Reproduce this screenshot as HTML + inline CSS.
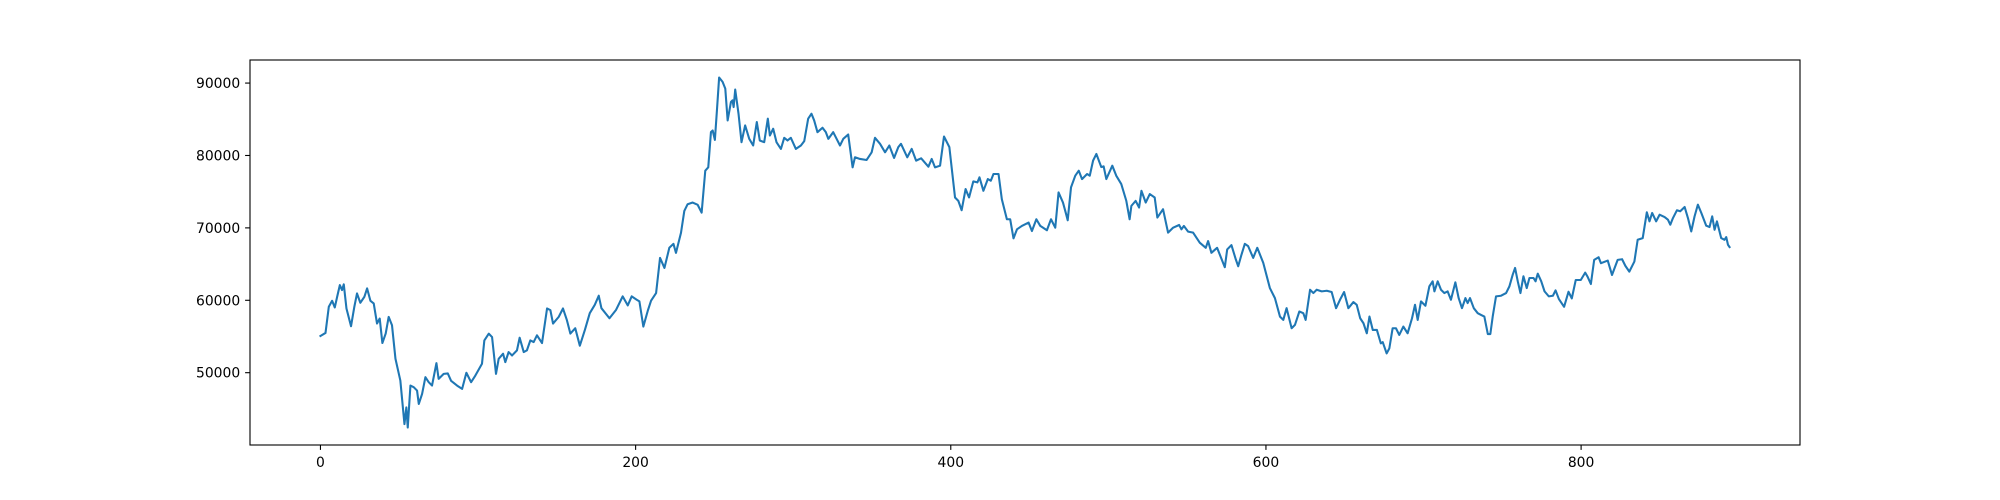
<!DOCTYPE html>
<html>
<head>
<meta charset="utf-8">
<style>
  html, body { margin: 0; padding: 0; background: #ffffff; }
  svg { display: block; }
  text { font-family: "DejaVu Sans", "Liberation Sans", sans-serif; font-size: 13.9px; fill: #000; }
</style>
</head>
<body>
<svg id="chart" width="2000" height="500" viewBox="0 0 2000 500" xmlns="http://www.w3.org/2000/svg">
  <rect x="0" y="0" width="2000" height="500" fill="#ffffff"/>
  <g id="plot"></g>
</svg>
<script>
const xValues = [0,3.2,5.3,7.4,9.1,10.6,12.3,13.7,14.8,16.5,19.4,21.5,23.2,25.3,27.9,29.6,31.7,33.8,35.9,37.6,39.3,41.4,43.3,45.4,
47.6,50.7,53.3,54.5,55.4,57.1,59.2,61.3,62.4,64.5,66.6,68.7,70.8,73.6,75,78.2,80.8,82.9,86.7,89.9,92.6,95.6,98.3,102.5,104,106.8,108.9,111.4,113.1,115.9,117.3,119.4,121.6,124.7,126.4,129,131,133.2,135.3,137.4,140.6,143.8,145.9,147.6,151.2,153.9,156.4,
158.6,161.7,164.6,167.8,170.9,174.1,176.6,178.3,183.4,187.6,191.8,195,197.5,200.7,202.4,204.9,207.7,209.8,213,215.5,218.3,221.4,224,225.6,228.8,230.9,233,236.2,239.4,241.9,244.2,246.1,247.8,248.9,250.3,251.6,253,255.2,256.9,258.4,260.5,261.5,262.2,263.2,265.3,267.2,269.5,272.1,274.6,276.9,278.8,281.6,283.9,285.2,287.3,289.4,292.2,294.3,296.4,298.5,301.7,304.9,307,309.5,311.6,313.3,315.4,318.6,320.7,
322.3,325.4,329.7,331.8,334.9,337.7,339.2,342.4,346.6,349.8,351.9,355.1,358.3,361,364,366.7,368.4,372.4,375.2,378,381.2,385.8,387.9,390,393.2,395.7,399.1,402.7,404.8,406.9,409.4,411.6,414.3,416.9,418.2,420.7,423.5,425.4,427.1,430.3,432.4,435.6,437.7,439.8,442,445.1,449.4,451.5,454.3,456.8,461,463.6,466.3,468.4,471.2,473.1,474.2,476.3,479,481.2,483.3,486.5,488.2,490.3,492.4,
495.5,497,498.7,502.5,505,508.2,511.4,513.5,514.6,517.3,519.5,521,523.7,526.3,529.4,531.1,534.7,537.9,541.1,544.9,546.4,547.9,550.6,553.8,558,561.8,563.3,565.4,569,573.9,575.4,578.1,580.9,582.4,584.5,586.6,588.7,591.9,594.5,598.3,602.5,605.7,608.9,611,613.1,616.3,618.4,621.2,623.7,625.2,628,630.1,632.2,635.4,638.6,641.7,644.5,647,649.6,652.3,655.5,657.6,659.8,661.9,664,665.7,667.8,670.4,
672.9,674.1,676.6,678.3,680.4,682.5,684.6,687.2,689.9,692.7,694.6,696.3,698.4,701.2,703.7,705.8,706.9,709,711.1,713.2,715.3,717.4,720.2,722.3,724.4,726.6,728,729.5,731.9,734.4,736.5,738.6,740.8,742.4,743.9,746,749.2,752.4,754.5,756.6,758.1,759.8,761.5,763.4,765.5,767.2,769.8,771.1,772.5,774.7,776.8,779.5,782.1,783.8,785.9,
789.2,792,794.1,796.6,799.8,802.6,804.1,806.2,808.3,811.1,812.6,816.9,819.6,823.2,826,828.1,830.6,833.8,835.9,839.1,841.7,843.4,845.1,847.6,849.8,853,855.1,856.6,858.3,860.8,862.9,865.7,867.8,869.9,872,874.1,876.3,879.4,881.5,883.2,884.7,886.2,888.9,891,892.1,893.2,894.2];
const yValues = [55070,55490,59100,59930,59010,60490,62100,61410,62200,58870,56420,59100,60950,59650,60490,61640,59930,59560,56790,57480,54100,55400,57710,56550,
51930,48910,42900,45200,42430,48220,48000,47530,45680,47070,49380,48690,48220,51320,49150,49840,49900,48880,48220,47760,49990,48690,49610,51230,54460,55390,54920,49840,51920,52620,51460,52850,52380,53080,54830,52850,53080,54460,54230,55160,54090,58870,58640,56780,57710,58870,57250,
55400,56140,53730,55900,58220,59380,60630,58910,57520,58680,60540,59290,60540,60080,59850,56370,58540,59940,61000,65860,64470,67250,67800,66550,69330,72340,73270,73500,73180,72110,77900,78360,83220,83450,82150,86230,90770,90170,89240,84840,87390,87620,86690,89100,85770,81840,84150,82300,81380,84620,82070,81840,85080,82760,83690,81840,80910,82440,82070,82440,80910,81380,81980,85080,85770,84840,83220,83830,83220,
82300,83220,81380,82300,82900,78360,79750,79520,79380,80440,82440,81610,80440,81380,79660,81150,81610,79750,80910,79290,79610,78450,79520,78360,78590,82620,81150,74200,73730,72440,75360,74200,76420,76280,76980,75120,76740,76510,77440,77440,73960,71190,71190,68550,69800,70270,70730,69570,71190,70270,69670,71190,70030,74900,73500,71980,71050,75590,77210,77900,76740,77440,77210,79290,80210,
78400,78500,76740,78590,77210,76050,73730,71190,73040,73730,72810,75120,73500,74670,74200,71420,72580,69340,70030,70400,69800,70270,69480,69340,67950,67250,68180,66560,67250,64570,67020,67620,65630,64700,66320,67800,67480,65860,67250,65170,61690,60300,57750,57290,58910,56140,56600,58450,58220,57290,61460,61000,61460,61230,61320,61140,58910,60070,61140,58910,59750,59380,57520,56830,55440,57750,55900,55900,
54050,54230,52660,53360,56140,56140,55210,56370,55440,57520,59380,57290,59850,59240,61920,62620,61230,62620,61460,61000,61230,60070,62480,60300,58910,60300,59610,60300,58910,58220,57980,57750,55340,55340,57750,60540,60630,61000,61920,63540,64470,62620,61000,63310,61690,63080,63080,62620,63680,62620,61230,60540,60630,61370,60170,
59100,61180,60260,62800,62800,63820,63260,62250,65580,65950,65120,65490,63500,65580,65670,64750,63960,65350,68360,68590,72150,70900,72060,70900,71820,71500,71130,70440,71360,72430,72290,72890,71360,69510,71590,73210,72060,70300,70120,71590,69740,70900,68590,68360,68730,67670,67350];
const xTicks = [0, 200, 400, 600, 800];
const yTicks = [50000, 60000, 70000, 80000, 90000];
const yTickLabels = ["50000", "60000", "70000", "80000", "90000"];

const NS = "http://www.w3.org/2000/svg";
const L = 250, R = 1800, T = 60, B = 445;
const xMin0 = 0, xMax0 = Math.max(...xValues);
const xPad = (xMax0 - xMin0) * 0.05;
const xLo = xMin0 - xPad, xHi = xMax0 + xPad;
const yMin0 = Math.min(...yValues), yMax0 = Math.max(...yValues);
const yPad = (yMax0 - yMin0) * 0.05;
const yLo = yMin0 - yPad, yHi = yMax0 + yPad;
function sx(v) { return L + (v - xLo) / (xHi - xLo) * (R - L); }
function sy(v) { return B - (v - yLo) / (yHi - yLo) * (B - T); }

const plot = document.getElementById('plot');
function mk(tag, attrs) {
  const e = document.createElementNS(NS, tag);
  for (const k in attrs) e.setAttribute(k, attrs[k]);
  return e;
}

// series
let d = '';
for (let i = 0; i < xValues.length; i++) {
  d += (i ? 'L' : 'M') + sx(xValues[i]).toFixed(2) + ',' + sy(yValues[i]).toFixed(2);
}
const line = mk('path', { d: d, fill: 'none', stroke: '#1f77b4', 'stroke-width': '2.08', 'stroke-linejoin': 'round', 'stroke-linecap': 'square' });


plot.appendChild(line);

// frame
const frame = mk('rect', { x: L, y: T, width: R - L, height: B - T, fill: 'none', stroke: '#000', 'stroke-width': '1.1' });


plot.appendChild(frame);

// x ticks
xTicks.forEach(function (t) {
  const x = sx(t);
  const tk = mk('line', { x1: x, y1: B, x2: x, y2: B + 4.9, stroke: '#000', 'stroke-width': '1.1' });
  
  
  plot.appendChild(tk);
  const tx = mk('text', { x: x, y: B + 22, 'text-anchor': 'middle' });
  tx.textContent = String(t);
  
  
  plot.appendChild(tx);
});

// y ticks
yTicks.forEach(function (t, i) {
  const y = sy(t);
  const tk = mk('line', { x1: L - 4.9, y1: y, x2: L, y2: y, stroke: '#000', 'stroke-width': '1.1' });
  
  
  plot.appendChild(tk);
  const tx = mk('text', { x: L - 9.8, y: y + 5, 'text-anchor': 'end' });
  tx.textContent = yTickLabels[i];
  
  
  plot.appendChild(tx);
});
</script>
</body>
</html>
